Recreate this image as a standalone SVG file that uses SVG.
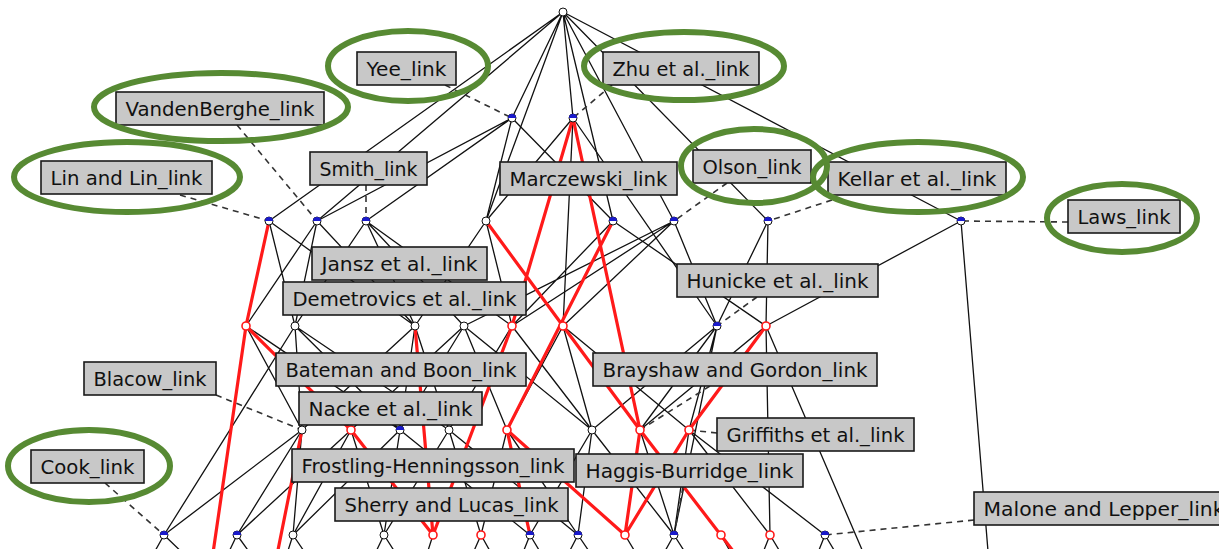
<svg xmlns="http://www.w3.org/2000/svg" width="1219" height="549" viewBox="0 0 1219 549">
<style>
.e{stroke:#111;stroke-width:1.3;fill:none}
.r{stroke:#ff1a1a;stroke-width:3.2;fill:none}
.d{stroke:#333;stroke-width:1.6;stroke-dasharray:6 5;fill:none}
.n{fill:#fff;stroke:#111;stroke-width:1}
.nr{fill:#fff;stroke:#ff1a1a;stroke-width:1.6}
.lb rect{fill:#c8c8c8;stroke:#1a1a1a;stroke-width:1.6}
.lb text{font-family:"DejaVu Sans",Verdana,sans-serif;font-size:20px;fill:#111}
.ring{fill:none;stroke:#578a33;stroke-width:6}
</style>
<defs>
<g id="bn"><circle r="4" class="n"/><path d="M-4,0 A4,4 0 0 1 4,0 Z" fill="#1a1acc"/></g>
</defs>
<rect width="1219" height="549" fill="#fff"/>
<g id="connectors">
<g class="e">
<path d="M563,12L512,118M563,12L573,118M563,12L269,221M563,12L317,221M563,12L486,221M563,12L613,221M563,12L674,221M563,12L768,221M563,12L961,221"/>
<path d="M512,118L317,221M512,118L366,221M512,118L486,221M512,118L613,221M573,118L486,221M573,118L563,326M573,118L717,326"/>
<path d="M269,221L295,326M269,221L415,326M317,221L246,326M317,221L295,326M317,221L415,326M366,221L295,326M366,221L415,326M366,221L464,326M366,221L512,326"/>
<path d="M486,221L415,326M486,221L512,326M613,221L512,326M613,221L766,326M674,221L464,326M674,221L512,326M674,221L563,326M674,221L717,326M768,221L717,326M768,221L766,326M961,221L766,326M961,221L992,600"/>
<path d="M246,326L302,430M246,326L400,430M295,326L302,430M295,326L400,430M295,326L449,430M295,326L164,535M415,326L302,430M415,326L400,430M415,326L449,430"/>
<path d="M464,326L351,430M464,326L400,430M464,326L507,430M464,326L592,430M512,326L449,430M512,326L592,430M563,326L507,430M563,326L592,430M563,326L689,430"/>
<path d="M717,326L592,430M717,326L640,430M717,326L689,430M717,326L674,535M766,326L640,430M766,326L770,535M766,326L875,580"/>
<path d="M302,430L164,535M302,430L293,535M302,430L237,535M351,430L237,535M351,430L293,535M351,430L384,535M400,430L293,535M400,430L384,535M400,430L530,535"/>
<path d="M449,430L384,535M449,430L481,535M449,430L578,535M507,430L481,535M507,430L578,535M592,430L530,535M592,430L578,535M592,430L674,535M640,430L625,535M640,430L674,535M689,430L674,535M689,430L770,535M689,430L825,535"/>
<path d="M164,535L150,560M164,535L190,560M237,535L225,560M237,535L255,560M293,535L285,560M293,535L310,560M384,535L372,560M384,535L400,560M433,535L425,560M481,535L470,560M481,535L495,560M530,535L520,560M530,535L545,560M578,535L565,560M578,535L595,560M625,535L640,560M674,535L660,560M674,535L690,560M721,535L735,560M770,535L760,560M770,535L785,560M825,535L815,560M825,535L840,560"/>
</g>
<g class="r">
<path d="M269,221L246,326L212,560M246,326L351,430M573,118L512,326L433,535M486,221L563,326L640,430L740,560M613,221L507,430M415,326L433,535M766,326L689,430L625,535M573,118L640,430M302,430L276,560M351,430L433,535M507,430L530,535M507,430L625,535M640,430L625,535"/>
</g>
<g class="d">
<path d="M445,85L512,118M612,85L573,118M237,125L317,221M180,195L269,221M366,185L366,221M727,183L674,221M832,200L768,221M1068,222L961,221M757,297L717,326M216,395L302,430M400,410L400,430M710,386L640,430M717,433L689,430M105,483L164,535M683,487L674,535M974,520L825,535"/>
</g>
</g>
<g id="nodes">
<circle cx="563" cy="12" r="4" class="n"/>
<use href="#bn" x="512" y="118"/><use href="#bn" x="573" y="118"/>
<use href="#bn" x="269" y="221"/><use href="#bn" x="317" y="221"/><use href="#bn" x="366" y="221"/>
<circle cx="486" cy="221" r="4" class="n"/>
<use href="#bn" x="613" y="221"/><use href="#bn" x="674" y="221"/><use href="#bn" x="768" y="221"/><use href="#bn" x="961" y="221"/>
<circle cx="246" cy="326" r="4" class="nr"/>
<circle cx="295" cy="326" r="4" class="n"/>
<circle cx="415" cy="326" r="4" class="n"/>
<circle cx="464" cy="326" r="4" class="n"/>
<circle cx="512" cy="326" r="4" class="nr"/>
<circle cx="563" cy="326" r="4" class="nr"/>
<use href="#bn" x="717" y="326"/>
<circle cx="766" cy="326" r="4" class="nr"/>
<circle cx="302" cy="430" r="4" class="n"/>
<circle cx="351" cy="430" r="4" class="nr"/>
<use href="#bn" x="400" y="430"/>
<circle cx="449" cy="430" r="4" class="n"/>
<circle cx="507" cy="430" r="4" class="nr"/>
<circle cx="592" cy="430" r="4" class="n"/>
<circle cx="640" cy="430" r="4" class="nr"/>
<circle cx="689" cy="430" r="4" class="nr"/>
<use href="#bn" x="164" y="535"/><use href="#bn" x="237" y="535"/>
<circle cx="293" cy="535" r="4" class="n"/>
<circle cx="384" cy="535" r="4" class="n"/>
<circle cx="433" cy="535" r="4" class="nr"/>
<circle cx="481" cy="535" r="4" class="nr"/>
<use href="#bn" x="530" y="535"/><use href="#bn" x="578" y="535"/>
<circle cx="625" cy="535" r="4" class="nr"/>
<use href="#bn" x="674" y="535"/>
<circle cx="721" cy="535" r="4" class="nr"/>
<circle cx="770" cy="535" r="4" class="nr"/>
<use href="#bn" x="825" y="535"/>
</g>
<g id="labels">
<g id="yee" class="lb"><rect x="357" y="52" width="99" height="33"/><text x="366.5" y="76" textLength="80" lengthAdjust="spacingAndGlyphs">Yee_link</text></g>
<g id="zhu" class="lb"><rect x="603" y="52" width="156" height="33"/><text x="612.5" y="76" textLength="137" lengthAdjust="spacingAndGlyphs">Zhu et al._link</text></g>
<g id="vandenberghe" class="lb"><rect x="116" y="92" width="208" height="33"/><text x="125.5" y="116" textLength="189" lengthAdjust="spacingAndGlyphs">VandenBerghe_link</text></g>
<g id="lin" class="lb"><rect x="41" y="161" width="171" height="33"/><text x="50.5" y="185" textLength="152" lengthAdjust="spacingAndGlyphs">Lin and Lin_link</text></g>
<g id="smith" class="lb"><rect x="310" y="152" width="117" height="33"/><text x="319.5" y="176" textLength="98" lengthAdjust="spacingAndGlyphs">Smith_link</text></g>
<g id="marczewski" class="lb"><rect x="500" y="162" width="177" height="33"/><text x="509.5" y="186" textLength="158" lengthAdjust="spacingAndGlyphs">Marczewski_link</text></g>
<g id="olson" class="lb"><rect x="693" y="150" width="118" height="33"/><text x="702.5" y="174" textLength="99" lengthAdjust="spacingAndGlyphs">Olson_link</text></g>
<g id="kellar" class="lb"><rect x="828" y="162" width="178" height="33"/><text x="837.5" y="186" textLength="159" lengthAdjust="spacingAndGlyphs">Kellar et al._link</text></g>
<g id="laws" class="lb"><rect x="1068" y="200" width="112" height="33"/><text x="1077.5" y="224" textLength="93" lengthAdjust="spacingAndGlyphs">Laws_link</text></g>
<g id="jansz" class="lb"><rect x="312" y="247" width="175" height="33"/><text x="321.5" y="271" textLength="156" lengthAdjust="spacingAndGlyphs">Jansz et al._link</text></g>
<g id="demetrovics" class="lb"><rect x="283" y="282" width="243" height="33"/><text x="292.5" y="306" textLength="224" lengthAdjust="spacingAndGlyphs">Demetrovics et al._link</text></g>
<g id="hunicke" class="lb"><rect x="677" y="264" width="201" height="33"/><text x="686.5" y="288" textLength="182" lengthAdjust="spacingAndGlyphs">Hunicke et al._link</text></g>
<g id="blacow" class="lb"><rect x="84" y="362" width="132" height="33"/><text x="93.5" y="386" textLength="113" lengthAdjust="spacingAndGlyphs">Blacow_link</text></g>
<g id="bateman" class="lb"><rect x="276" y="353" width="250" height="33"/><text x="285.5" y="377" textLength="231" lengthAdjust="spacingAndGlyphs">Bateman and Boon_link</text></g>
<g id="brayshaw" class="lb"><rect x="593" y="353" width="284" height="33"/><text x="602.5" y="377" textLength="265" lengthAdjust="spacingAndGlyphs">Brayshaw and Gordon_link</text></g>
<g id="nacke" class="lb"><rect x="299" y="392" width="183" height="33"/><text x="308.5" y="416" textLength="164" lengthAdjust="spacingAndGlyphs">Nacke et al._link</text></g>
<g id="griffiths" class="lb"><rect x="717" y="418" width="197" height="33"/><text x="726.5" y="442" textLength="178" lengthAdjust="spacingAndGlyphs">Griffiths et al._link</text></g>
<g id="cook" class="lb"><rect x="31" y="450" width="113" height="33"/><text x="40.5" y="474" textLength="94" lengthAdjust="spacingAndGlyphs">Cook_link</text></g>
<g id="frostling" class="lb"><rect x="292" y="449" width="282" height="33"/><text x="301.5" y="473" textLength="263" lengthAdjust="spacingAndGlyphs">Frostling-Henningsson_link</text></g>
<g id="haggis" class="lb"><rect x="576" y="454" width="227" height="33"/><text x="585.5" y="478" textLength="208" lengthAdjust="spacingAndGlyphs">Haggis-Burridge_link</text></g>
<g id="sherry" class="lb"><rect x="335" y="488" width="233" height="33"/><text x="344.5" y="512" textLength="214" lengthAdjust="spacingAndGlyphs">Sherry and Lucas_link</text></g>
<g id="malone" class="lb"><rect x="974" y="492" width="262" height="33"/><text x="983.5" y="516" textLength="241" lengthAdjust="spacingAndGlyphs">Malone and Lepper_link</text></g>
</g>
<g id="highlights">
<ellipse class="ring" cx="408" cy="66" rx="80" ry="35"/>
<ellipse class="ring" cx="684" cy="66" rx="100" ry="34"/>
<ellipse class="ring" cx="221" cy="107" rx="127" ry="34"/>
<ellipse class="ring" cx="127" cy="177" rx="113" ry="35"/>
<ellipse class="ring" cx="754" cy="166" rx="73" ry="37"/>
<ellipse class="ring" cx="918" cy="177" rx="105" ry="35"/>
<ellipse class="ring" cx="1122" cy="218" rx="75" ry="34"/>
<ellipse class="ring" cx="89" cy="466" rx="81" ry="36"/>
</g>
</svg>
